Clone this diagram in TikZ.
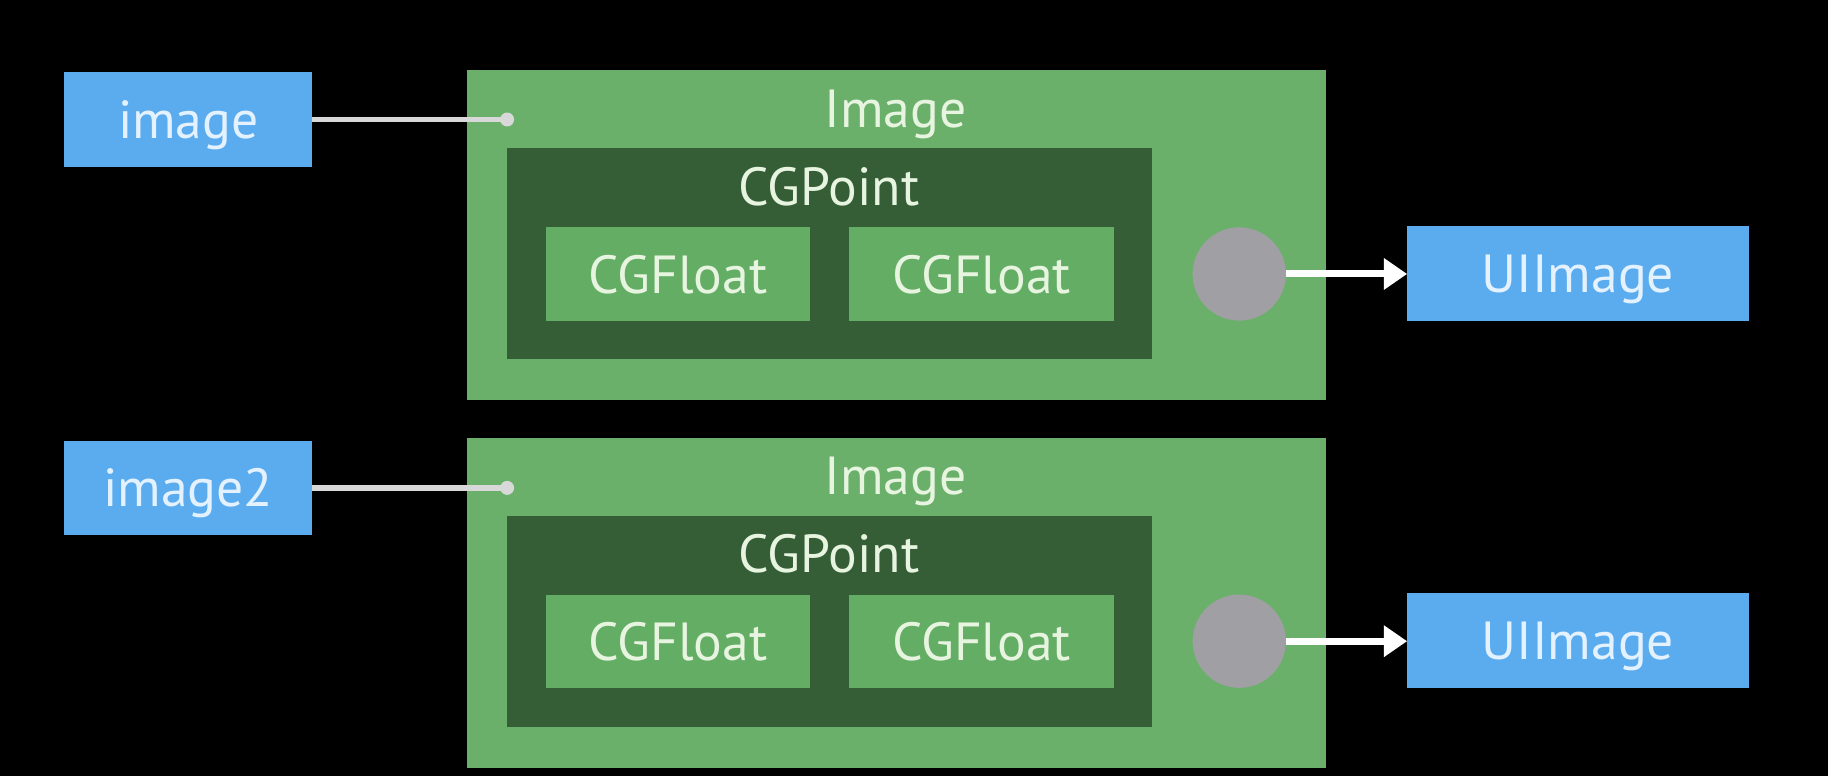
\documentclass[tikz,border=0pt]{standalone}
\usepackage{fontspec}
\setmainfont{PT Sans}
\usetikzlibrary{arrows.meta}
\definecolor{bluebox}{HTML}{5AACEF}
\definecolor{outergreen}{HTML}{6AB06A}
\definecolor{darkgreen}{HTML}{365E36}
\definecolor{innergreen}{HTML}{64AD64}
\definecolor{circgray}{HTML}{A0A0A4}
\definecolor{txtgreen}{HTML}{E6F4E0}
\definecolor{txtblue}{HTML}{E4F2FF}
\definecolor{linegray}{HTML}{D8D8D8}
\begin{document}
\begin{tikzpicture}[x=1pt,y=-1pt,
  every node/.style={inner sep=0pt, outer sep=0pt, text depth=0pt, font=\fontsize{46}{54}\selectfont},
  varbox/.style={fill=bluebox, text=txtblue, minimum width=213pt, minimum height=81pt},
  uibox/.style={fill=bluebox, text=txtblue, minimum width=293pt, minimum height=82pt},
  outerbox/.style={fill=outergreen, minimum width=736pt, minimum height=283pt},
  pointbox/.style={fill=darkgreen, minimum width=553pt, minimum height=181pt},
  floatbox/.style={fill=innergreen, text=txtgreen, minimum width=227pt, minimum height=80pt},
  lbl/.style={text=txtgreen},
  refcirc/.style={circle, fill=circgray, minimum size=80pt},
  dotc/.style={circle, fill=linegray, minimum size=12pt},
  refline/.style={draw=linegray, line width=4.5pt},
  refarrow/.style={draw=white, line width=6pt, -{Triangle[length=20pt,width=26pt]}}
]
\fill[black] (0,0) rectangle (1568,666);
\useasboundingbox (0,0) rectangle (1568,666);

% ---------- first ----------
\node[varbox] (img1) at (161.5,102.5) {image};
\node[outerbox] (out1) at (769,201.5) {};
\node[lbl] (lab1) at (768,93) {Image};
\node[pointbox] (cgp1) at (711.5,217.5) {};
\node[lbl] (cgpl1) at (711,160) {CGPoint};
\node[floatbox] (f1a) at (581.5,235) {CGFloat};
\node[floatbox] (f1b) at (842,235) {CGFloat};
\node[refcirc] (c1) at (1063,235) {};
\node[uibox] (ui1) at (1353.5,234.5) {UIImage};
\node[dotc] (d1) at (435,102.5) {};
\draw[refline] (img1.east) -- (d1.center);
\draw[refarrow] (c1.east) -- (c1.east -| ui1.west);

% ---------- second ----------
\node[varbox] (img2) at (161.5,418.5) {image2};
\node[outerbox] (out2) at (769,517.5) {};
\node[lbl] (lab2) at (768,408) {Image};
\node[pointbox] (cgp2) at (711.5,533) {};
\node[lbl] (cgpl2) at (711,475) {CGPoint};
\node[floatbox] (f2a) at (581.5,550) {CGFloat};
\node[floatbox] (f2b) at (842,550) {CGFloat};
\node[refcirc] (c2) at (1063,550) {};
\node[uibox] (ui2) at (1353.5,549.5) {UIImage};
\node[dotc] (d2) at (435,418.5) {};
\draw[refline] (img2.east) -- (d2.center);
\draw[refarrow] (c2.east) -- (c2.east -| ui2.west);
\end{tikzpicture}
\end{document}
